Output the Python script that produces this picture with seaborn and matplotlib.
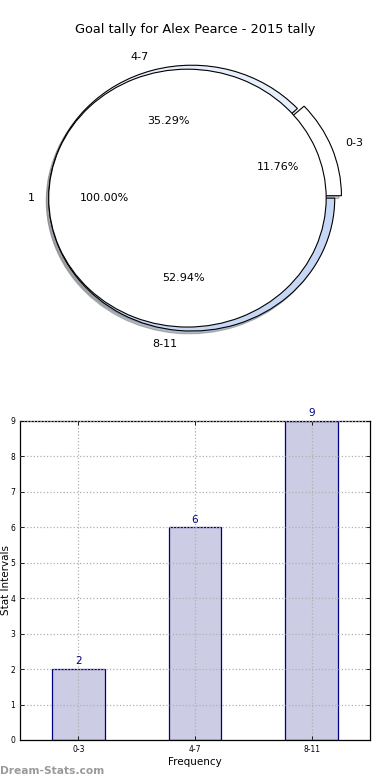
import matplotlib
matplotlib.use("Agg")
import matplotlib.pyplot as plt
import seaborn as sns
import pandas as pd

title = "Goal tally for Alex Pearce - 2015 tally"
categories = ["0-3", "4-7", "8-11"]
values = [2, 6, 9]
inner_labels = ["1"]
inner_values = [1]
ring_colors = ["#ffffff", "#e8effc", "#c6d8f6"]
bar_fill = "#ccccE5"
bar_edge = "#000080"

plt.rcParams["font.family"] = ["DejaVu Sans"]

fig = plt.figure(figsize=(3.9, 7.8), dpi=100)

# ---- Pie (top) ----
ax1 = fig.add_axes([0.0333, 0.533, 0.9167, 0.426])
ax1.pie(values, labels=categories, colors=ring_colors, explode=[0.05, 0, 0],
        autopct="%1.2f%%", pctdistance=0.6, labeldistance=1.1, startangle=0,
        shadow=dict(ox=-0.012, oy=-0.015, shade=0.45),
        wedgeprops=dict(edgecolor="black", linewidth=0.8),
        textprops=dict(fontsize=8))
ax1.pie(inner_values, labels=inner_labels, colors=["white"], radius=0.97,
        explode=[0.03], autopct="%1.2f%%", pctdistance=0.6, labeldistance=1.1,
        startangle=0, shadow=dict(ox=-0.012, oy=-0.015, shade=0.45),
        wedgeprops=dict(edgecolor="black", linewidth=0.8),
        textprops=dict(fontsize=8))
ax1.set_aspect("auto")
ax1.set_xlim(-1.25, 1.25)
ax1.set_ylim(-1.25, 1.25)
fig.text(0.5, 0.962, title, ha="center", va="center", fontsize=9.3)

# ---- Bar chart (bottom) ----
df = pd.DataFrame({"cat": categories, "val": values})
ax2 = fig.add_axes([0.0513, 0.0513, 0.897, 0.409])
sns.barplot(data=df, x="cat", y="val", color=bar_fill, saturation=1,
            width=0.45, edgecolor=bar_edge, linewidth=0.9, ax=ax2, zorder=2)
ax2.set_xlim(-0.5, 2.5)
ax2.set_ylim(0, 9)
ax2.set_yticks(range(0, 10))
ax2.grid(True, linestyle=":", color="#b0b0b0", linewidth=0.9, zorder=0)
ax2.set_axisbelow(False)
for c in ax2.containers:
    ax2.bar_label(c, labels=[str(v) for v in values], color=bar_edge,
                  fontsize=7.5, padding=2)
ax2.tick_params(direction="in", top=True, right=True, labelsize=5.5,
                length=3, width=0.6)
for s in ax2.spines.values():
    s.set_linewidth(0.9)
ax2.set_xlabel("Frequency", fontsize=7.5, labelpad=2)
ax2.set_ylabel("Stat Intervals", fontsize=7.5)
ax2.yaxis.set_label_coords(-0.027, 0.5)

fig.text(0.0, 0.012, "Dream-Stats.com", fontsize=7.7, color="#9a9a9a",
         fontweight="bold", ha="left", va="center")

fig.savefig("out.png", dpi=100)
